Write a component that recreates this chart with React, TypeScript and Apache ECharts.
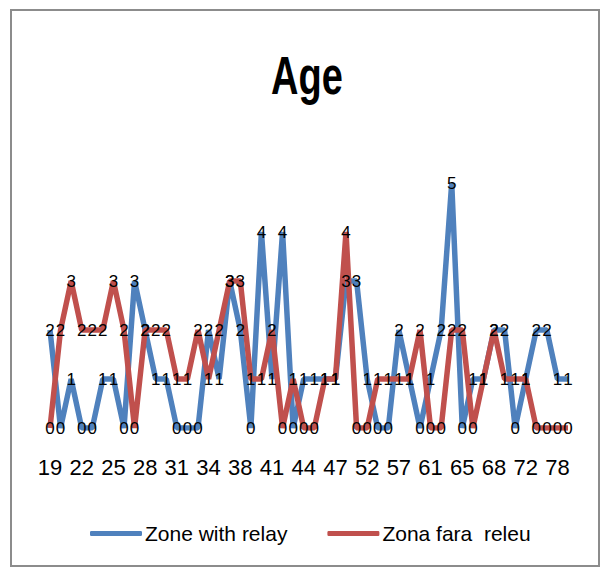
import React, { useEffect, useRef } from "react";
import * as echarts from "echarts";

const ages = [
  "19", "20", "21", "22", "23", "24", "25", "26", "27", "28",
  "29", "30", "31", "32", "33", "34", "35", "37", "38", "39",
  "40", "41", "42", "43", "44", "45", "46", "47", "48", "50",
  "52", "53", "55", "57", "58", "60", "61", "62", "63", "65",
  "66", "67", "68", "69", "70", "72", "74", "76", "78", "79",
];

const zoneWithRelay = [
  2, 0, 1, 0, 0, 1, 1, 0, 3, 2,
  1, 1, 0, 0, 0, 2, 1, 3, 2, 0,
  4, 1, 4, 0, 1, 1, 1, 1, 3, 3,
  1, 0, 0, 2, 1, 0, 1, 2, 5, 0,
  1, 1, 2, 2, 0, 1, 2, 2, 1, 1,
];

const zonaFaraReleu = [
  0, 2, 3, 2, 2, 2, 3, 2, 0, 2,
  2, 2, 1, 1, 2, 1, 2, 3, 3, 1,
  1, 2, 0, 1, 0, 0, 1, 1, 4, 0,
  0, 1, 1, 1, 1, 2, 0, 0, 2, 2,
  0, 1, 2, 1, 1, 1, 0, 0, 0, 0,
];

const titleText = "Age";
const seriesNames = ["Zone with relay", "Zona fara  releu"];
const colors = ["#4F81BD", "#C0504D"];

const FONT = "'Liberation Sans', Arial, sans-serif";

export default function App() {
  const ref = useRef<HTMLDivElement>(null);

  useEffect(() => {
    if (!ref.current) return;
    const chart = echarts.init(ref.current, null, { renderer: "svg" });

    const mkSeries = (name: string, data: number[], color: string) => ({
      name,
      type: "line",
      data,
      z: 2,
      symbol: "circle",
      symbolSize: 0.1,
      showSymbol: true,
      itemStyle: { color },
      lineStyle: { color, width: 5.5 },
      emphasis: { disabled: true },
      label: {
        show: true,
        position: "inside",
        color: "#000",
        fontFamily: FONT,
        fontSize: 17,
      },
    });

    chart.setOption({
      animation: false,
      backgroundColor: "#fff",
      graphic: [
        {
          type: "rect",
          shape: { x: 11, y: 10, width: 588, height: 556 },
          style: { fill: "none", stroke: "#8c8c8c", lineWidth: 2 },
          silent: true,
        },
        {
          type: "text",
          x: 307,
          y: 76,
          scaleY: 1.4,
          silent: true,
          style: {
            text: titleText,
            font: "bold 38px 'Liberation Sans', Arial, sans-serif",
            fill: "#000",
            align: "center",
            verticalAlign: "middle",
          },
        },
      ],
      legend: {
        left: 85,
        top: 518,
        icon: "roundRect",
        itemWidth: 52,
        itemHeight: 5,
        itemGap: 40,
        data: seriesNames,
        textStyle: {
          fontFamily: FONT,
          fontSize: 21,
          color: "#000",
          padding: [0, 0, 0, -2],
        },
      },
      grid: { left: 44.7, right: 32.7, top: 134, bottom: 145 },
      xAxis: {
        type: "category",
        data: ages,
        boundaryGap: true,
        axisLine: { show: false },
        axisTick: { show: false },
        splitLine: { show: false },
        axisLabel: {
          interval: 2,
          margin: 28,
          color: "#000",
          fontFamily: FONT,
          fontSize: 22,
        },
      },
      yAxis: {
        type: "value",
        min: 0,
        max: 6,
        interval: 1,
        show: false,
        splitLine: { show: false },
      },
      series: [
        mkSeries(seriesNames[0], zoneWithRelay, colors[0]),
        mkSeries(seriesNames[1], zonaFaraReleu, colors[1]),
      ],
    });

    return () => chart.dispose();
  }, []);

  return (
    <div
      ref={ref}
      style={{ position: "fixed", left: 0, top: 0, width: 606, height: 573 }}
    />
  );
}
